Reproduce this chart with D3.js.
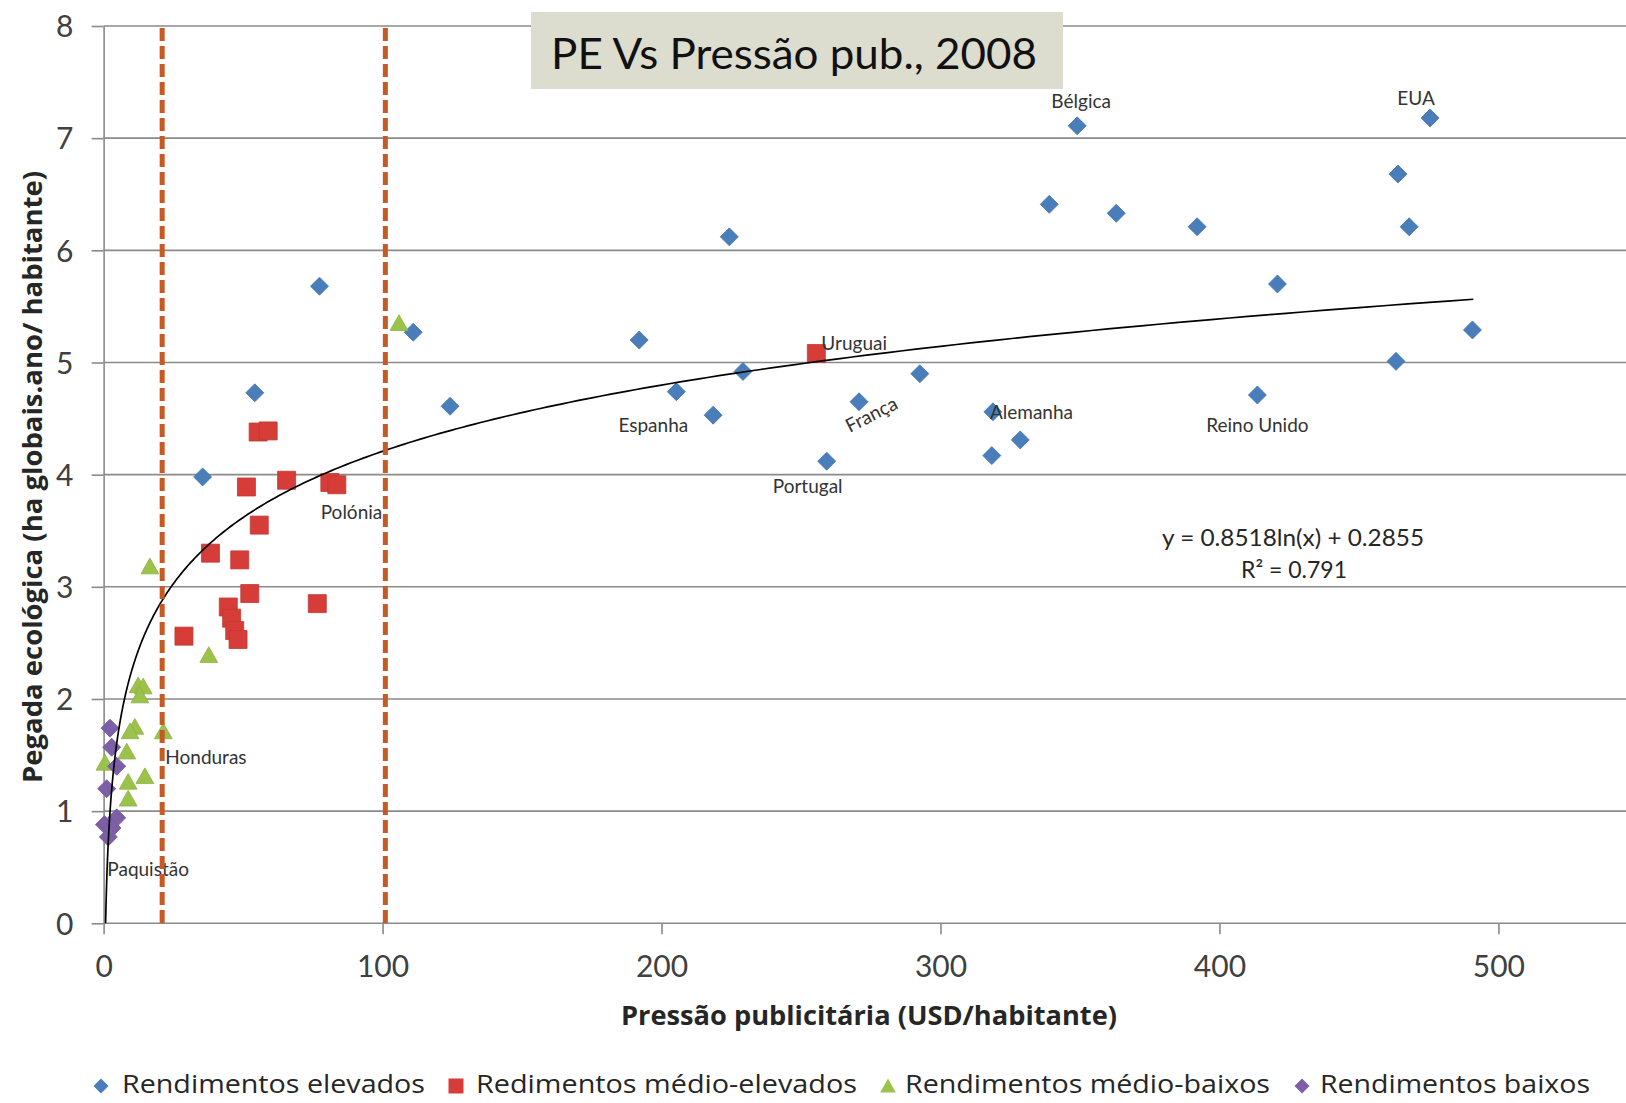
<!DOCTYPE html>
<html>
<head>
<meta charset="utf-8">
<script src="https://cdn.jsdelivr.net/npm/d3@7"></script>
<style>
  html, body { margin: 0; padding: 0; background: #ffffff; }
  svg { display: block; }
</style>
</head>
<body>
<svg id="chart" width="1626" height="1103"></svg>
<script>
// ---- data -------------------------------------------------------------
const seriesNames = [
  "Rendimentos elevados",
  "Redimentos médio-elevados",
  "Rendimentos médio-baixos",
  "Rendimentos baixos"
];

// [advertising pressure (USD/inhabitant), ecological footprint (gha/inhabitant)]
const rendElevados = [
  [475.5, 7.18], [349, 7.11], [464, 6.68], [339, 6.41], [363, 6.33], [392, 6.21],
  [468, 6.21], [224.3, 6.12], [77.4, 5.68], [420.8, 5.70], [111, 5.27], [192, 5.20],
  [490.7, 5.29], [463.3, 5.01], [229.2, 4.92], [292.6, 4.90], [54.2, 4.73], [205.3, 4.74],
  [413.6, 4.71], [270.8, 4.65], [124.2, 4.61], [218.5, 4.53], [318.8, 4.56], [328.6, 4.31],
  [318.4, 4.17], [259.2, 4.12], [35.5, 3.98]
];
const rendMedioElevados = [
  [255.5, 5.08], [55.4, 4.38], [59.0, 4.39], [51.2, 3.89], [65.6, 3.95], [81.1, 3.93],
  [83.6, 3.91], [55.8, 3.55], [38.3, 3.30], [48.8, 3.24], [52.4, 2.94], [76.6, 2.85],
  [44.7, 2.82], [45.9, 2.72], [47.0, 2.61], [48.2, 2.53], [28.8, 2.56]
];
const rendMedioBaixos = [
  [105.9, 5.35], [16.6, 3.18], [37.7, 2.39], [12.4, 2.12], [14.2, 2.11], [13.0, 2.03],
  [11.2, 1.75], [9.5, 1.71], [21.4, 1.71], [8.3, 1.53], [0.5, 1.43], [8.8, 1.26],
  [14.8, 1.31], [8.8, 1.11]
];
const rendBaixos = [
  [2.3, 1.74], [2.9, 1.57], [4.7, 1.40], [1.1, 1.20], [0.3, 0.88], [4.7, 0.94],
  [1.7, 0.77], [3.0, 0.85]
];

// named countries: [name, x, y] of the point they describe
const countryLabels = [
  ["Bélgica", 349, 7.11],
  ["EUA", 475.5, 7.18],
  ["Uruguai", 255.5, 5.08],
  ["Espanha", 205.3, 4.74],
  ["França", 270.8, 4.65],
  ["Alemanha", 318.8, 4.56],
  ["Reino Unido", 413.6, 4.71],
  ["Portugal", 259.2, 4.12],
  ["Polónia", 82.4, 3.92],
  ["Honduras", 21.4, 1.71],
  ["Paquistão", 1.7, 0.77]
];

const xTicks = [0, 100, 200, 300, 400, 500];
const yTicks = [0, 1, 2, 3, 4, 5, 6, 7, 8];
const incomeThresholds = [21, 101];          // vertical dashed markers (USD/inhabitant)

// logarithmic trend line  y = a ln(x) + b
const trendA = 0.8518;
const trendB = 0.2855;
const trendR2 = 0.791;
const trendXMax = 491;

const chartTitle = "PE Vs Pressão pub., 2008";
const xTitle = "Pressão publicitária (USD/habitante)";
const yTitle = "Pegada ecológica (ha globais.ano/ habitante)";

// ---- layout -----------------------------------------------------------
const W = 1626, H = 1103;
const svg = d3.select("#chart");

const x = d3.scaleLinear().domain([0, 500]).range([103.6, 1498.4]);
const y = d3.scaleLinear().domain([0, 8]).range([923.3, 26]);

const colors = ["#4a7ebb", "#d63d38", "#9bc24a", "#7d5fa8"];
const gridColor = "#8a8a8a";
const tickFont = "Lato, 'Open Sans', sans-serif";
const labelFont = "Lato, 'Open Sans', sans-serif";

// ---- grid lines ---------------------------------------------------------
svg.append("g").attr("class", "grid")
  .selectAll("line").data(yTicks).join("line")
  .attr("x1", x(0)).attr("x2", W)
  .attr("y1", d => y(d)).attr("y2", d => y(d))
  .attr("stroke", gridColor).attr("stroke-width", 1.6);

// ---- axes ---------------------------------------------------------------
const yAxis = svg.append("g")
  .attr("transform", `translate(${x(0)},0)`)
  .call(d3.axisLeft(y).tickValues(yTicks).tickSize(12).tickSizeOuter(0));
yAxis.select(".domain").attr("stroke", gridColor).attr("stroke-width", 1.6);
yAxis.selectAll(".tick line").attr("stroke", gridColor).attr("stroke-width", 1.6);
yAxis.selectAll(".tick text")
  .attr("x", -39).attr("dy", "0.36em")
  .attr("text-anchor", "middle")
  .style("font-family", tickFont).style("font-size", "30px")
  .attr("fill", "#404040");

const xAxis = svg.append("g")
  .attr("transform", `translate(0,${y(0)})`)
  .call(d3.axisBottom(x).tickValues(xTicks).tickSize(11).tickSizeOuter(0));
xAxis.select(".domain").remove();
xAxis.selectAll(".tick line").attr("stroke", gridColor).attr("stroke-width", 1.6);
xAxis.selectAll(".tick text")
  .attr("y", 43).attr("dy", "0.36em")
  .style("font-family", tickFont).style("font-size", "30px")
  .attr("fill", "#404040");

// axis titles
svg.append("text")
  .attr("x", 869).attr("y", 1014)
  .attr("text-anchor", "middle").attr("dominant-baseline", "central")
  .attr("textLength", 496).attr("lengthAdjust", "spacingAndGlyphs")
  .style("font-family", "'Open Sans', sans-serif").style("font-weight", 700)
  .style("font-size", "27px").attr("fill", "#262626")
  .text(xTitle);

svg.append("text")
  .attr("transform", "translate(31,477) rotate(-90)")
  .attr("text-anchor", "middle").attr("dominant-baseline", "central")
  .attr("textLength", 612).attr("lengthAdjust", "spacingAndGlyphs")
  .style("font-family", "'Open Sans', sans-serif").style("font-weight", 700)
  .style("font-size", "27px").attr("fill", "#262626")
  .text(yTitle);

// ---- markers ------------------------------------------------------------
const shapes = {
  diamond: r => `M0,${-r}L${r},0L0,${r}L${-r},0Z`,
  square: r => `M${-r},${-r}H${r}V${r}H${-r}Z`,
  triangle: r => `M0,${-r}L${r * 1.05},${r * 0.85}H${-r * 1.05}Z`
};
const seriesDefs = [
  { data: rendElevados, shape: "diamond", r: 9 },
  { data: rendMedioElevados, shape: "square", r: 9 },
  { data: rendMedioBaixos, shape: "triangle", r: 8.5 },
  { data: rendBaixos, shape: "diamond", r: 9 }
];

seriesDefs.forEach((s, i) => {
  svg.append("g").attr("class", "series-" + i)
    .selectAll("path").data(s.data).join("path")
    .attr("transform", d => `translate(${x(d[0])},${y(d[1])})`)
    .attr("d", shapes[s.shape](s.r))
    .attr("fill", colors[i])
    .attr("stroke", d3.color(colors[i]).darker(0.25))
    .attr("stroke-width", 0.8);
});

// trend line from where it crosses zero up to the largest x, sampled on a log grid
const trendX0 = Math.exp(-trendB / trendA);
const trendXs = d3.range(0, 401).map(i =>
  Math.exp(Math.log(trendX0) + (Math.log(trendXMax) - Math.log(trendX0)) * i / 400));
const trend = d3.line()
  .x(v => x(v))
  .y(v => y(trendA * Math.log(v) + trendB));
svg.append("path")
  .datum(trendXs)
  .attr("d", trend)
  .attr("fill", "none")
  .attr("stroke", "#000")
  .attr("stroke-width", 1.7);

// equation
svg.append("text")
  .attr("x", 1293).attr("y", 537)
  .attr("text-anchor", "middle").attr("dominant-baseline", "central")
  .attr("textLength", 262).attr("lengthAdjust", "spacingAndGlyphs")
  .style("font-family", labelFont).style("font-size", "23px").attr("fill", "#262626")
  .text(`y = ${trendA}ln(x)  + ${trendB}`);
svg.append("text")
  .attr("x", 1294).attr("y", 569)
  .attr("text-anchor", "middle").attr("dominant-baseline", "central")
  .style("font-family", labelFont).style("font-size", "23px").attr("fill", "#262626")
  .text(`R² = ${trendR2}`);

// ---- country labels -----------------------------------------------------
const labelPlacement = {
  "Bélgica":     { dx: 4,   dy: -25, anchor: "middle" },
  "EUA":         { dx: -14, dy: -20, anchor: "middle" },
  "Uruguai":     { dx: 5,   dy: -11, anchor: "start" },
  "Espanha":     { dx: -23, dy: 33,  anchor: "middle" },
  "França":      { dx: 12,  dy: 12,  anchor: "middle", rotate: -27 },
  "Alemanha":    { dx: -3,  dy: 0,   anchor: "start" },
  "Reino Unido": { dx: 0,   dy: 29,  anchor: "middle" },
  "Portugal":    { dx: -19, dy: 24,  anchor: "middle" },
  "Polónia":     { dx: 18,  dy: 28,  anchor: "middle" },
  "Honduras":    { dx: 2,   dy: 25,  anchor: "start" },
  "Paquistão":   { dx: -1,  dy: 32,  anchor: "start" }
};
svg.append("g").attr("class", "country-labels")
  .selectAll("text").data(countryLabels).join("text")
  .attr("transform", d => {
    const p = labelPlacement[d[0]];
    return `translate(${x(d[1]) + p.dx},${y(d[2]) + p.dy}) rotate(${p.rotate || 0})`;
  })
  .attr("text-anchor", d => labelPlacement[d[0]].anchor)
  .attr("dominant-baseline", "central")
  .style("font-family", labelFont).style("font-size", "19px")
  .attr("fill", "#333")
  .text(d => d[0]);

// ---- income threshold markers (dashed) ----------------------------------
svg.append("g").attr("class", "thresholds")
  .selectAll("line").data(incomeThresholds).join("line")
  .attr("x1", d => x(d)).attr("x2", d => x(d))
  .attr("y1", y(8) + 2).attr("y2", y(0))
  .attr("stroke", "#c65a22")
  .attr("stroke-width", 5)
  .attr("stroke-dasharray", "13,5");

// ---- title box ------------------------------------------------------------
svg.append("rect")
  .attr("x", 531).attr("y", 12).attr("width", 532).attr("height", 77)
  .attr("fill", "#dcdccf");
svg.append("text")
  .attr("x", 551).attr("y", 53)
  .attr("dominant-baseline", "central")
  .attr("textLength", 486).attr("lengthAdjust", "spacingAndGlyphs")
  .style("font-family", "Lato, 'Open Sans', sans-serif").style("font-size", "42px")
  .attr("fill", "#111")
  .text(chartTitle);

// ---- legend ---------------------------------------------------------------
const legendItems = [
  { marker: 101, text: 122, width: 303 },
  { marker: 456, text: 476, width: 381 },
  { marker: 888, text: 905, width: 365 },
  { marker: 1302, text: 1320, width: 270 }
];
const legendY = 1083;
const legend = svg.append("g").attr("class", "legend");
legendItems.forEach((it, i) => {
  const s = seriesDefs[i];
  legend.append("path")
    .attr("transform", `translate(${it.marker},${legendY + 3})`)
    .attr("d", shapes[s.shape](7.5))
    .attr("fill", colors[i]);
  legend.append("text")
    .attr("x", it.text).attr("y", legendY)
    .attr("dominant-baseline", "central")
    .attr("textLength", it.width).attr("lengthAdjust", "spacingAndGlyphs")
    .style("font-family", "'Open Sans', sans-serif").style("font-size", "26px")
    .attr("fill", "#262626")
    .text(seriesNames[i]);
});
</script>
</body>
</html>
